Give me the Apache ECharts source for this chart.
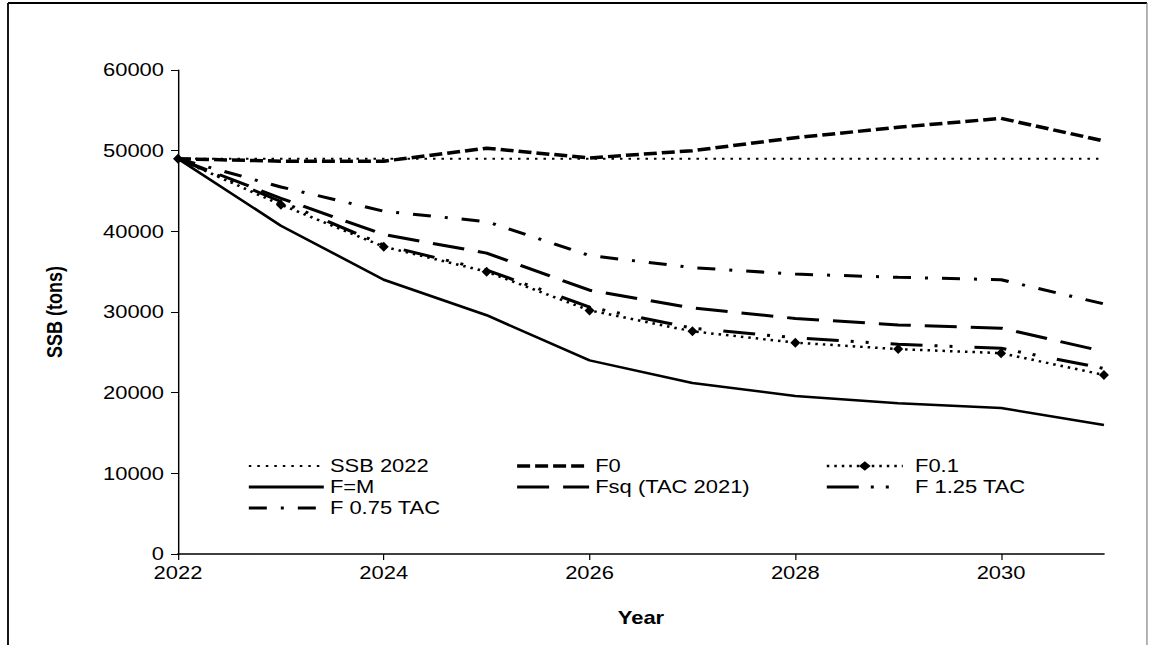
<!DOCTYPE html>
<html>
<head>
<meta charset="utf-8">
<script src="https://cdn.jsdelivr.net/npm/echarts@6/dist/echarts.min.js"></script>
<style>
  html, body { margin: 0; padding: 0; background: #fff; overflow: hidden; }
  /* the source figure is stretched horizontally; draw narrower and stretch the same way */
  #chart { width: 942px; height: 645px; transform: scaleX(1.2197); transform-origin: 0 0; }
</style>
</head>
<body>
<div id="chart"></div>
<script>
// years on the x axis
const years = ['2022', '2023', '2024', '2025', '2026', '2027', '2028', '2029', '2030', '2031'];
// SSB (tons) per scenario
const ssb2022 = [49000, 49000, 49000, 49000, 49000, 49000, 49000, 49000, 49000, 49000];
const f0      = [49000, 48700, 48700, 50300, 49100, 50000, 51600, 52900, 54000, 51200];
const f01     = [49000, 43300, 38100, 35000, 30200, 27600, 26200, 25400, 24900, 22200];
const fEqM    = [49000, 40700, 34000, 29600, 24000, 21200, 19600, 18700, 18100, 16000];
const fsq     = [49000, 44100, 39600, 37300, 32700, 30500, 29200, 28400, 28000, 25100];
const f125Tac = [49000, 43700, 38300, 35200, 30600, 28000, 26800, 26000, 25500, 23000];
const f075Tac = [49000, 45500, 42500, 41200, 37000, 35500, 34700, 34300, 34000, 31000];
const yTicks = [0, 10000, 20000, 30000, 40000, 50000, 60000];

const font = 'Liberation Sans, Arial, sans-serif';
const sx = 1149 / 942; // horizontal stretch of the page
const X = v => v / sx;  // page x -> chart x

const chart = echarts.init(document.getElementById('chart'), null, { renderer: 'svg' });

function mkLine(name, data, width, dash, extra) {
  return Object.assign({
    name: name,
    type: 'line',
    data: data,
    symbol: 'none',
    smooth: false,
    animation: false,
    itemStyle: { color: '#000' },
    lineStyle: { color: '#000', width: width, type: dash }
  }, extra || {});
}

// legend entry, line only unless marker is wanted
function item(name, width, marker) {
  const o = { name: name, lineStyle: { width: width } };
  if (!marker) o.itemStyle = { opacity: 0 };
  return o;
}

const legendText = { color: '#000', fontSize: 18, fontFamily: font };

const option = {
  backgroundColor: '#fff',
  animation: false,
  color: ['#000'],
  grid: { left: X(178), top: 70, right: X(45), bottom: 91 },
  graphic: [
    { type: 'line', shape: { x1: X(8), y1: 3, x2: X(1147), y2: 3 }, style: { stroke: '#000', lineWidth: 2 } },
    { type: 'line', shape: { x1: X(8), y1: 3, x2: X(8), y2: 645 }, style: { stroke: '#111', lineWidth: 1.6 } },
    { type: 'line', shape: { x1: X(1147), y1: 3, x2: X(1147), y2: 645 }, style: { stroke: '#777', lineWidth: 0.9 } }
  ],
  legend: [
    {
      left: X(247), top: 457, padding: 0, orient: 'vertical', itemWidth: X(75), itemHeight: 12, itemGap: 3,
      textStyle: legendText,
      data: [item('SSB 2022', 2), item('F=M', 3), item('F 0.75 TAC', 3)]
    },
    {
      left: X(515), top: 457, padding: 0, orient: 'vertical', itemWidth: X(72), itemHeight: 12, itemGap: 3,
      textStyle: legendText,
      data: [item('F0', 3.5), item('Fsq (TAC 2021)', 3)]
    },
    {
      left: X(825), top: 457, padding: 0, orient: 'vertical', itemWidth: X(76), itemHeight: 12, itemGap: 3,
      textStyle: Object.assign({}, legendText, { padding: [0, 0, 0, 5] }),
      data: [item('F0.1', 2.5, true), item('F 1.25 TAC', 3)]
    }
  ],
  xAxis: {
    type: 'category',
    data: years,
    boundaryGap: false,
    name: 'Year',
    nameLocation: 'middle',
    nameGap: 55,
    nameTextStyle: { color: '#000', fontSize: 18, fontWeight: 'bold', fontFamily: font },
    axisLine: { lineStyle: { color: '#000', width: 1.5 } },
    axisTick: { show: true, interval: 1, length: 6, lineStyle: { color: '#000' } },
    axisLabel: { interval: 1, color: '#000', fontSize: 18, fontFamily: font, margin: 10 },
    splitLine: { show: false }
  },
  yAxis: {
    type: 'value',
    min: yTicks[0],
    max: yTicks[yTicks.length - 1],
    interval: 10000,
    name: 'SSB (tons)',
    nameLocation: 'middle',
    nameGap: 92,
    nameTextStyle: { color: '#000', fontSize: 18, fontWeight: 'bold', fontFamily: font },
    axisLine: { show: true, lineStyle: { color: '#000', width: 1.2 } },
    axisTick: { show: true, length: X(7), lineStyle: { color: '#000' } },
    axisLabel: {
      color: '#000', fontSize: 18, fontFamily: font, margin: X(14),
      formatter: function (v) { return String(v); }
    },
    splitLine: { show: false }
  },
  series: [
    mkLine('SSB 2022', ssb2022, 2, [X(2.5), X(6)]),
    mkLine('F0', f0, 3.5, [X(13), X(5)]),
    mkLine('F0.1', f01, 2.5, [X(2.5), X(5)], {
      symbol: 'diamond', symbolSize: [X(10), 10], showSymbol: true
    }),
    mkLine('F=M', fEqM, 2.5, 'solid'),
    mkLine('Fsq (TAC 2021)', fsq, 3, [X(32), X(14)]),
    mkLine('F 1.25 TAC', f125Tac, 3, [X(32), X(12), X(3), X(12), X(3), X(22)]),
    mkLine('F 0.75 TAC', f075Tac, 3, [X(18), X(14), X(3), X(14)])
  ]
};

chart.setOption(option);
</script>
</body>
</html>
